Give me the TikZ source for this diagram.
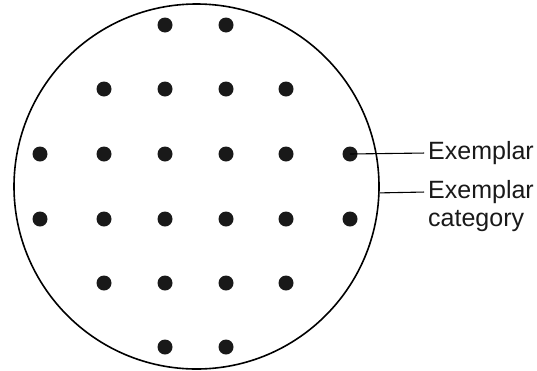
\documentclass[tikz,border=0pt]{standalone}
\usepackage{fontspec}
\setmainfont{Liberation Sans}
\begin{document}
\begin{tikzpicture}[x=1pt, y=-1pt,
  dot/.style={circle, fill=black!90, inner sep=0pt, minimum size=15pt},
  category/.style={circle, draw, line width=1.6pt, inner sep=0pt, minimum size=365pt},
  lbl/.style={font=\fontsize{25}{29}\selectfont, inner xsep=4pt, inner ysep=0pt, text=black!90}]
  \useasboundingbox (0,0) rectangle (537,370);
  \node[category] (circ) at (196.5,186.5) {};
  % row 1
  \node[dot] (d13) at (165,25) {};
  \node[dot] (d14) at (226,25) {};
  % row 2
  \node[dot] (d22) at (104,89) {};
  \node[dot] (d23) at (165,89) {};
  \node[dot] (d24) at (226,89) {};
  \node[dot] (d25) at (286,89) {};
  % row 3
  \node[dot] (d31) at (40,154) {};
  \node[dot] (d32) at (104,154) {};
  \node[dot] (d33) at (165,154) {};
  \node[dot] (d34) at (226,154) {};
  \node[dot] (d35) at (286,154) {};
  \node[dot] (d36) at (350,154) {};
  % row 4
  \node[dot] (d41) at (40,219) {};
  \node[dot] (d42) at (104,219) {};
  \node[dot] (d43) at (165,219) {};
  \node[dot] (d44) at (226,219) {};
  \node[dot] (d45) at (286,219) {};
  \node[dot] (d46) at (350,219) {};
  % row 5
  \node[dot] (d52) at (104,283) {};
  \node[dot] (d53) at (165,283) {};
  \node[dot] (d54) at (226,283) {};
  \node[dot] (d55) at (286,283) {};
  % row 6
  \node[dot] (d63) at (165,347) {};
  \node[dot] (d64) at (226,347) {};
  % labels
  \node[lbl, anchor=base west] (exm) at (424,159.5) {Exemplar};
  \node[lbl, anchor=base west] (cat) at (424,198.5) {Exemplar};
  \node[lbl, anchor=base west] (cat2) at (424,226.5) {category};
  \draw[line width=1.1pt] (d36.center) -- (exm.west);
  \draw[line width=1.1pt] (circ.-2.1) -- (cat.west);
\end{tikzpicture}
\end{document}
